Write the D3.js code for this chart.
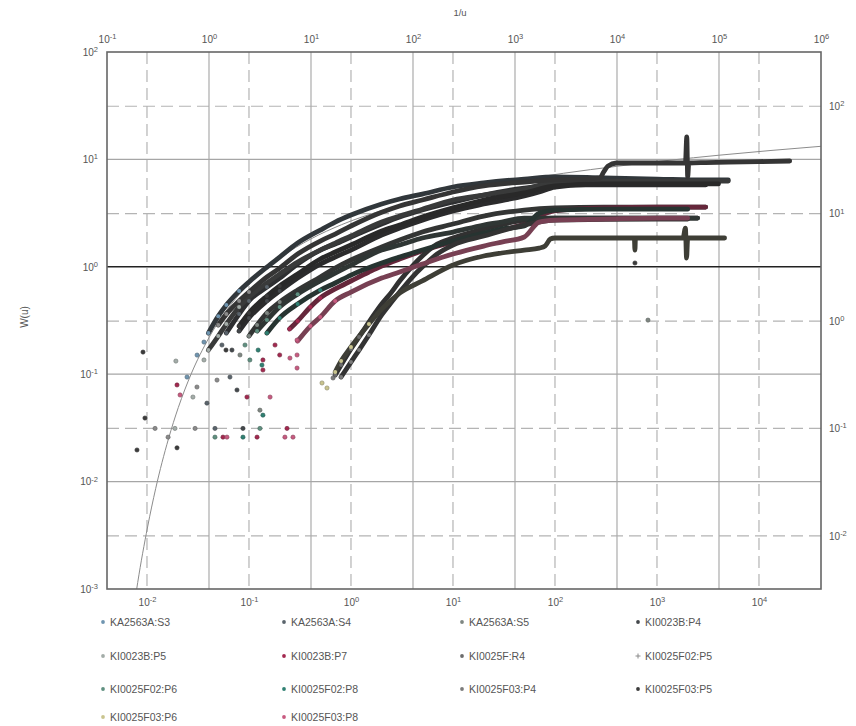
<!DOCTYPE html>
<html>
<head>
<meta charset="utf-8">
<script src="https://cdn.jsdelivr.net/npm/d3@7"></script>
<style>
  body { margin: 0; background: #fff; }
  svg { display: block; font-family: "Liberation Sans", Arial, sans-serif; }
</style>
</head>
<body>
<svg id="chart" width="856" height="726"></svg>
<script>
// Theis type curve W(u) vs 1/u (top/left axes) with drawdown data s vs t
// overlaid on the bottom/right axes (matched position).

const TOP_TICKS = [1e-1, 1e0, 1e1, 1e2, 1e3, 1e4, 1e5, 1e6];
const LEFT_TICKS = [1e-3, 1e-2, 1e-1, 1e0, 1e1, 1e2];
const BOTTOM_TICKS = [1e-2, 1e-1, 1e0, 1e1, 1e2, 1e3, 1e4];
const RIGHT_TICKS = [1e-2, 1e-1, 1e0, 1e1, 1e2];

// type curve
const THEIS_INV_U = [0.18, 0.2, 0.25, 0.3, 0.4, 0.5, 0.667, 1, 2, 3, 5, 10, 20, 50, 100, 200, 500, 1000, 3000, 1e4, 1e5, 1e6];
const THEIS_W = [0.00059, 0.00115, 0.00378, 0.0086, 0.0249, 0.0489, 0.100, 0.219, 0.560, 0.83, 1.22, 1.82, 2.47, 3.35, 4.04, 4.73, 5.64, 6.33, 7.43, 8.63, 10.94, 13.24];

const SERIES_NAMES = [
  "KA2563A:S3", "KA2563A:S4", "KA2563A:S5", "KI0023B:P4",
  "KI0023B:P5", "KI0023B:P7", "KI0025F:R4", "KI0025F02:P5",
  "KI0025F02:P6", "KI0025F02:P8", "KI0025F03:P4", "KI0025F03:P5",
  "KI0025F03:P6", "KI0025F03:P8"
];

// [t, s] per observation section
const ka2563aS3 = [[0.04,0.773],[0.05,1.11],[0.06,1.41],[0.08,1.90],[0.1,2.31],[0.15,3.18],[0.2,3.94],[0.3,5.32],[0.5,7.03],[0.7,8.35],[1,9.70],[2,12.3],[3,13.7],[5,15.2],[10,17.7],[20,19.3],[50,21.0],[100,22.0],[300,21.5],[1000,21.0],[3000,20.6],[5000,20.6]];
const ka2563aS4 = [[0.06,0.773],[0.08,1.16],[0.1,1.54],[0.15,2.07],[0.2,2.51],[0.3,3.39],[0.5,4.58],[0.7,5.21],[1,6.06],[2,8.0],[3,9.29],[5,10.8],[10,12.8],[20,14.9],[50,17.3],[100,18.5],[300,18.9],[1000,19.3],[4000,19.3]];
const ka2563aS5 = [[0.1,0.725],[0.12,0.918],[0.15,1.19],[0.2,1.50],[0.3,1.94],[0.5,2.57],[0.7,3.11],[1,3.70],[2,4.89],[3,5.68],[5,6.74],[10,8.0],[20,9.5],[50,10.8],[100,11.3],[300,11.5],[1000,11.5],[3000,11.5]];
const ki0023bP4 = [[0.08,0.807],[0.1,1.07],[0.15,1.54],[0.2,1.90],[0.3,2.51],[0.5,3.39],[0.7,3.94],[1,4.58],[2,6.32],[3,7.34],[5,8.7],[10,10.6],[20,12.3],[50,14.6],[70,15.9],[100,17.7],[200,18.5],[1000,18.5],[3000,18.5]];
const ki0023bP5 = [[0.04,0.537],[0.05,0.725],[0.06,0.938],[0.08,1.35],[0.1,1.67],[0.15,2.26],[0.2,2.74],[0.3,3.54],[0.5,4.58],[0.7,5.32],[1,6.19],[2,8.35],[3,9.5],[5,11.0],[10,13.4],[20,14.9],[50,16.9],[100,19.7],[300,20.1],[1000,20.1],[5000,20.1]];
const ki0023bP7 = [[0.25,0.842],[0.3,1.0],[0.4,1.35],[0.5,1.64],[0.7,1.99],[1,2.36],[1.5,2.86],[2,3.25],[3,3.78],[5,4.49],[10,5.44],[20,6.32],[30,7.03],[50,8.0],[70,9.5],[100,10.6],[300,11.3],[1000,11.5],[3000,11.5]];
const ki0025fR4 = [[0.7,0.314],[0.8,0.389],[1,0.549],[1.2,0.710],[1.5,0.979],[2,1.44],[2.5,1.86],[3,2.36],[4,3.25],[5,4.03],[7,5.21],[10,5.93],[20,7.18],[50,8.7],[100,9.1],[1000,9.1],[2500,9.1]];
const ki0025f02P5 = [[0.05,0.918],[0.06,1.16],[0.08,1.54],[0.1,1.86],[0.15,2.57],[0.2,3.11],[0.3,4.21],[0.5,5.56],[0.7,6.45],[1,7.67],[2,10.3],[3,11.8],[5,13.4],[10,15.9],[20,18.1],[50,19.7],[100,20.6],[200,21.0],[276,21.5],[300,24.4],[330,27.7],[400,29.6],[700,29.6],[1000,29.6],[1900,29.6],[1960,51.7],[2000,21.9],[2050,29.6],[3000,29.9],[5000,30.2],[10000,30.5],[20000,30.9]];
const ki0025f02P6 = [[0.12,0.807],[0.15,1.02],[0.2,1.35],[0.3,1.78],[0.5,2.36],[0.7,2.80],[1,3.32],[2,4.58],[3,5.10],[5,5.93],[10,6.74],[20,7.83],[30,8.35],[50,9.1],[100,9.1],[1000,9.1],[2500,9.1]];
const ki0025f02P8 = [[0.15,0.773],[0.2,1.07],[0.3,1.44],[0.5,1.94],[0.7,2.26],[1,2.68],[2,3.47],[3,3.94],[5,4.58],[10,5.56],[20,6.59],[30,7.19],[50,7.67],[70,10.1],[100,10.8],[300,11.0],[1000,11.0],[2000,11.0]];
const ki0025f03P4 = [[0.8,0.301],[1,0.415],[1.2,0.537],[1.5,0.741],[2,1.14],[2.5,1.50],[3,1.86],[4,2.57],[5,3.18],[7,4.21],[10,5.10],[20,6.19],[50,7.83],[100,8.7],[1000,8.9],[2000,8.9]];
const ki0025f03P5 = [[0.08,0.898],[0.1,1.19],[0.15,1.71],[0.2,2.12],[0.3,2.74],[0.5,3.78],[0.7,4.39],[1,5.10],[2,6.89],[3,7.83],[5,9.29],[10,11.3],[20,13.4],[50,15.6],[100,18.1],[300,18.9],[1000,18.9],[4000,18.9]];
const ki0025f03P6 = [[0.7,0.335],[0.8,0.424],[1,0.573],[1.5,0.938],[2,1.29],[3,1.82],[5,2.36],[10,3.32],[20,4.03],[30,4.30],[50,4.58],[70,4.78],[80,4.99],[90,5.80],[100,5.93],[200,5.93],[500,5.93],[600,5.93],[608,4.58],[615,5.93],[1000,5.93],[1800,5.93],[1900,7.34],[1950,3.86],[2000,5.93],[3000,5.93],[4600,5.93]];
const ki0025f03P8 = [[0.3,0.651],[0.4,0.898],[0.5,1.09],[0.7,1.54],[1,1.86],[2,2.51],[3,2.86],[5,3.39],[10,4.21],[20,4.99],[30,5.44],[50,6.06],[70,8.35],[100,8.7],[300,8.9],[1000,9.1],[2000,9.1]];

const SERIES_POINTS = [
  ka2563aS3, ka2563aS4, ka2563aS5, ki0023bP4,
  ki0023bP5, ki0023bP7, ki0025fR4, ki0025f02P5,
  ki0025f02P6, ki0025f02P8, ki0025f03P4, ki0025f03P5,
  ki0025f03P6, ki0025f03P8
];

// sparse early / stray readings: [series index, t, s]
const SCATTER = [
  [0,0.0247,0.301],[0,0.031,0.482],[0,0.0362,0.637],
  [11,0.00798,0.063],[11,0.00955,0.125],[11,0.00914,0.514],[4,0.0192,0.424],
  [7,0.0120,0.10],[7,0.0161,0.083],[4,0.0188,0.10],[11,0.0197,0.066],
  [7,0.0296,0.10],[4,0.0282,0.196],[7,0.0309,0.243],[1,0.0387,0.172],
  [1,0.0464,0.10],[8,0.0464,0.083],[7,0.0486,0.282],[1,0.0651,0.301],
  [3,0.0763,0.228],[3,0.0873,0.10],[9,0.0873,0.083],[8,0.128,0.10],
  [2,0.128,0.148],[9,0.137,0.133],
  [5,0.0197,0.254],[13,0.0211,0.205],[5,0.0556,0.083],[13,0.0608,0.083],
  [5,0.0955,0.196],[5,0.120,0.083],[13,0.161,0.196],[13,0.225,0.083],
  [5,0.236,0.10],[13,0.270,0.083],[5,0.137,0.434],[5,0.137,0.350],
  [13,0.296,0.665],[13,0.296,0.483],[13,0.296,0.365],
  [8,0.0914,0.598],[8,0.102,0.434],[9,0.123,0.537],[9,0.134,0.389],
  [5,0.180,0.598],[5,0.20,0.483],[13,0.252,0.452],[1,0.0543,0.598],
  [3,0.0681,0.537],[2,0.0816,0.483],[4,0.0362,0.434],[11,0.0595,0.537],
  [12,0.520,0.265],[12,0.582,0.238],[10,0.667,0.295],
  [11,608,3.47],[2,816,1.02]
];

const SERIES_COLORS = [
  "#6f95b0", "#5a646c", "#7f8782", "#44484c",
  "#a3aca8", "#a3284f", "#6c6c6c", "#8a8a8a",
  "#5f9080", "#2f8072", "#7b7b7b", "#3b3b3b",
  "#c9c48e", "#c85a80"
];

const svg = d3.select("#chart");
const L = 107, R = 821, T = 52, B = 589;

const xTop = d3.scaleLog().domain([1e-1, 1e6]).range([L, R]);
const yLeft = d3.scaleLog().domain([1e-3, 1e2]).range([B, T]);
const xBot = d3.scaleLog().domain([Math.pow(10, -2.392), Math.pow(10, 4.608)]).range([L, R]);
const yRight = d3.scaleLog().domain([Math.pow(10, -2.495), Math.pow(10, 2.505)]).range([B, T]);

svg.append("defs").append("clipPath").attr("id", "plot-clip")
  .append("rect").attr("x", L).attr("y", T).attr("width", R - L).attr("height", B - T);

// grid: dashed lines belong to the data axes, solid to the type curve axes
const grid = svg.append("g");
grid.selectAll(".vdash").data(BOTTOM_TICKS).join("line").attr("class", "vdash")
  .attr("x1", d => xBot(d)).attr("x2", d => xBot(d)).attr("y1", T).attr("y2", B)
  .attr("stroke", "#b4b4b4").attr("stroke-width", 1.2).attr("stroke-dasharray", "12,6");
grid.selectAll(".hdash").data(RIGHT_TICKS).join("line").attr("class", "hdash")
  .attr("x1", L).attr("x2", R).attr("y1", d => yRight(d)).attr("y2", d => yRight(d))
  .attr("stroke", "#b4b4b4").attr("stroke-width", 1.2).attr("stroke-dasharray", "12,6");
grid.selectAll(".vsolid").data(TOP_TICKS.slice(1, -1)).join("line").attr("class", "vsolid")
  .attr("x1", d => xTop(d)).attr("x2", d => xTop(d)).attr("y1", T).attr("y2", B)
  .attr("stroke", "#ababab").attr("stroke-width", 1.2);
grid.selectAll(".hsolid").data(LEFT_TICKS.slice(1, -1)).join("line").attr("class", "hsolid")
  .attr("x1", L).attr("x2", R).attr("y1", d => yLeft(d)).attr("y2", d => yLeft(d))
  .attr("stroke", d => (d === 1 ? "#222" : "#a6a6a6")).attr("stroke-width", d => (d === 1 ? 1.4 : 1.2));

const plot = svg.append("g").attr("clip-path", "url(#plot-clip)");

// type curve
const theis = THEIS_INV_U.map((v, i) => [v, THEIS_W[i]]);
plot.append("path").datum(theis)
  .attr("d", d3.line().x(d => xTop(d[0])).y(d => yLeft(d[1])).curve(d3.curveMonotoneX))
  .attr("fill", "none").attr("stroke", "#8c8c8c").attr("stroke-width", 1);

// dense observations show up as thick, nearly black bands; the red sections keep a tint
const bandColor = i => d3.interpolateRgb(SERIES_COLORS[i], "#262626")(i === 5 || i === 13 ? 0.5 : 0.85);
const line = d3.line().x(d => xBot(d[0])).y(d => yRight(d[1])).curve(d3.curveMonotoneX);
SERIES_POINTS.forEach((pts, i) => {
  plot.append("path").datum(pts).attr("d", line)
    .attr("fill", "none")
    .attr("stroke", bandColor(i))
    .attr("stroke-width", 4.8)
    .attr("stroke-linecap", "round").attr("stroke-linejoin", "round");
});
SERIES_POINTS.forEach((pts, i) => {
  plot.append("g").selectAll("circle").data(pts.slice(0, 4)).join("circle")
    .attr("cx", d => xBot(d[0])).attr("cy", d => yRight(d[1])).attr("r", 2)
    .attr("fill", SERIES_COLORS[i]);
});

plot.append("g").selectAll("circle").data(SCATTER).join("circle")
  .attr("cx", d => xBot(d[1])).attr("cy", d => yRight(d[2])).attr("r", 2.1)
  .attr("fill", d => SERIES_COLORS[d[0]])
  .attr("stroke", d => d3.interpolateRgb(SERIES_COLORS[d[0]], "#222")(0.4)).attr("stroke-width", 0.6);

// frame
svg.append("rect").attr("x", L).attr("y", T).attr("width", R - L).attr("height", B - T)
  .attr("fill", "none").attr("stroke", "#666").attr("stroke-width", 1.6);

// 10^n labels
function powLabels(g) {
  g.select(".domain").remove();
  g.attr("font-family", null).attr("font-size", null);
  g.selectAll("text").each(function (d) {
    const e = Math.round(Math.log10(d));
    const t = d3.select(this).text("10").attr("fill", "#555").style("font-size", "10px");
    t.append("tspan").attr("dy", "-0.5em").style("font-size", "7.5px").text(e);
  });
}

svg.append("g").attr("transform", `translate(0,${T})`)
  .call(d3.axisTop(xTop).tickValues(TOP_TICKS).tickSize(0).tickPadding(9)).call(powLabels);
svg.append("g").attr("transform", `translate(${L},0)`)
  .call(d3.axisLeft(yLeft).tickValues(LEFT_TICKS).tickSize(0).tickPadding(9)).call(powLabels);
svg.append("g").attr("transform", `translate(0,${B})`)
  .call(d3.axisBottom(xBot).tickValues(BOTTOM_TICKS).tickSize(0).tickPadding(10)).call(powLabels);
svg.append("g").attr("transform", `translate(${R},0)`)
  .call(d3.axisRight(yRight).tickValues(RIGHT_TICKS).tickSize(0).tickPadding(8)).call(powLabels);

svg.append("text").attr("x", 460).attr("y", 16).attr("text-anchor", "middle")
  .attr("fill", "#555").style("font-size", "9.5px").text("1/u");
svg.append("text").attr("transform", "translate(28,317) rotate(-90)").attr("text-anchor", "middle")
  .attr("fill", "#555").style("font-size", "10px").text("W(u)");

// legend, four columns
const LEG_X = [103, 284, 462, 638];
const LEG_Y = [622, 656, 689, 717];
const legend = svg.append("g");
SERIES_NAMES.forEach((name, i) => {
  const x = LEG_X[i % 4], y = LEG_Y[Math.floor(i / 4)];
  if (name === "KI0025F02:P5") {
    legend.append("path").attr("d", `M${x - 2.5},${y}H${x + 2.5}M${x},${y - 2.5}V${y + 2.5}`)
      .attr("stroke", SERIES_COLORS[i]).attr("stroke-width", 1);
  } else {
    legend.append("circle").attr("cx", x).attr("cy", y).attr("r", 1.9).attr("fill", SERIES_COLORS[i]);
  }
  legend.append("text").attr("x", x + 7).attr("y", y).attr("dy", "0.35em")
    .attr("fill", "#555").style("font-size", "10.5px").text(name);
});
</script>
</body>
</html>
